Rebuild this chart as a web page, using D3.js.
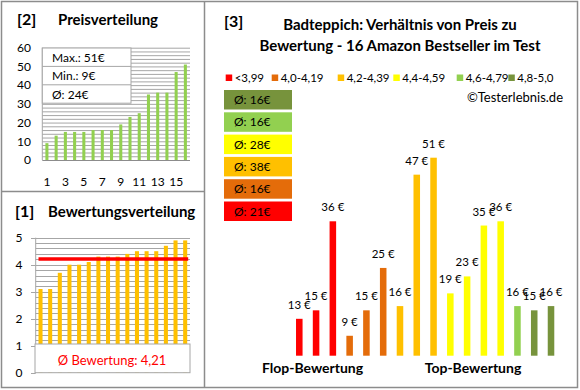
<!DOCTYPE html>
<html><head><meta charset="utf-8">
<script src="https://cdn.jsdelivr.net/npm/d3@7/dist/d3.min.js"></script>
<style>
html,body{margin:0;padding:0;background:#fff;}
svg{display:block;font-family:Lato, "Open Sans", sans-serif;}
</style></head>
<body>
<svg id="chart" width="580" height="390"></svg>
<script>
// ---- data ----
const priceSorted = [9, 13, 15, 15, 15, 16, 16, 16, 19, 23, 25, 35, 36, 36, 47, 51];
const priceTicks = [0, 10, 20, 30, 40, 50, 60];
const priceXLabels = ["1", "3", "5", "7", "9", "11", "13", "15"];
const priceStats = ["Max.: 51€", "Min.: 9€", "Ø: 24€"];

const ratingSorted = [3.1, 3.1, 3.7, 4.0, 4.0, 4.1, 4.3, 4.3, 4.3, 4.4, 4.5, 4.5, 4.5, 4.7, 4.9, 4.9];
const ratingTicks = [0, 1, 2, 3, 4, 5];
const ratingAvg = 4.21;
const ratingAvgLabel = "Ø Bewertung: 4,21";

const products = ["P1","P2","P3","P4","P5","P6","P7","P8","P9","P10","P11","P12","P13","P14","P15","P16"];
const productPrices = [13, 15, 36, 9, 15, 25, 16, 47, 51, 19, 23, 35, 36, 16, 15, 16];
const productClass = [0, 0, 0, 1, 1, 1, 2, 2, 2, 3, 3, 3, 3, 4, 5, 5];
const classLabels = ["<3,99", "4,0-4,19", "4,2-4,39", "4,4-4,59", "4,6-4,79", "4,8-5,0"];
const classColors = ["#FF0000", "#E46C0A", "#FFC000", "#FFFF00", "#92D050", "#77933C"];
const classAvgLabels = ["Ø: 21€", "Ø: 16€", "Ø: 38€", "Ø: 28€", "Ø: 16€", "Ø: 16€"];

const svg = d3.select("#chart");
const frame = "#8c8c8c";
const grid = "#a6a6a6";

// ---- frames ----
svg.append("rect").attr("x",1.5).attr("y",1.5).attr("width",576).attr("height",386)
  .attr("fill","none").attr("stroke",frame).attr("stroke-width",1.5);
svg.append("line").attr("x1",204.5).attr("x2",204.5).attr("y1",1).attr("y2",388)
  .attr("stroke",frame).attr("stroke-width",1.5);
svg.append("line").attr("x1",1).attr("x2",204.5).attr("y1",191.5).attr("y2",191.5)
  .attr("stroke",frame).attr("stroke-width",1.5);

// ---- panel [2] Preisverteilung ----
{
  const g = svg.append("g");
  g.append("text").attr("x",17).attr("y",25).attr("font-size",16).attr("font-weight","bold").text("[2]");
  g.append("text").attr("x",58).attr("y",25).attr("font-size",15).attr("font-weight","bold").text("Preisverteilung");
  const y = d3.scaleLinear().domain([0,60]).range([160,47.7]);
  const x = d3.scaleBand().domain(d3.range(1,17)).range([42.3,190]).paddingInner(0.67).paddingOuter(0.335);
  g.append("g").selectAll("line").data(d3.range(2,61,2)).join("line")
    .attr("x1",42.3).attr("x2",190).attr("y1",d=>y(d)+0.5).attr("y2",d=>y(d)+0.5)
    .attr("stroke",grid).attr("stroke-width",1);
  g.append("line").attr("x1",42.3).attr("x2",42.3).attr("y1",y(60)).attr("y2",y(0)).attr("stroke",grid);
  g.append("line").attr("x1",42.3).attr("x2",190).attr("y1",y(0)+0.5).attr("y2",y(0)+0.5).attr("stroke","#8c8c8c");
  const ax = d3.axisLeft(y).tickValues(priceTicks).tickFormat(d3.format("d")).tickSize(0).tickPadding(0);
  const ag = g.append("g").attr("transform","translate(31,0)").call(ax);
  ag.select(".domain").remove();
  ag.selectAll("text").attr("font-size",12).attr("font-family","Lato").attr("fill","#000");
  g.append("g").selectAll("rect").data(priceSorted).join("rect")
    .attr("x",(d,i)=>x(i+1)).attr("width",x.bandwidth())
    .attr("y",d=>y(d)).attr("height",d=>y(0)-y(d)).attr("fill","#92D050");
  g.append("g").selectAll("text").data(priceXLabels).join("text")
    .attr("x",d=>x(+d)+x.bandwidth()/2).attr("y",186).attr("text-anchor","middle")
    .attr("font-size",12).text(d=>d);
  // stats box
  const bx = 42.3, bw = 88.7, rowH = 18.4, by = 48;
  g.append("rect").attr("x",bx).attr("y",by).attr("width",bw).attr("height",rowH*3)
    .attr("fill","#fff").attr("stroke",grid);
  g.append("g").selectAll("line").data([1,2]).join("line")
    .attr("x1",bx).attr("x2",bx+bw).attr("y1",d=>by+d*rowH).attr("y2",d=>by+d*rowH).attr("stroke",grid);
  g.append("g").selectAll("text").data(priceStats).join("text")
    .attr("x",52).attr("y",(d,i)=>by+i*rowH+14).attr("font-size",12).text(d=>d);
}

// ---- panel [1] Bewertungsverteilung ----
{
  const g = svg.append("g");
  g.append("text").attr("x",15).attr("y",217).attr("font-size",16).attr("font-weight","bold").text("[1]");
  g.append("text").attr("x",48).attr("y",217).attr("font-size",15).attr("font-weight","bold").text("Bewertungsverteilung");
  const y = d3.scaleLinear().domain([0,5]).range([372.7,237.7]);
  const x = d3.scaleBand().domain(d3.range(16)).range([35.7,190]).paddingInner(0.58).paddingOuter(0.29);
  g.append("g").selectAll("line").data(d3.range(0.2,5.01,0.2)).join("line")
    .attr("x1",35.7).attr("x2",190).attr("y1",d=>Math.round(y(d))+0.5).attr("y2",d=>Math.round(y(d))+0.5)
    .attr("stroke",grid);
  g.append("line").attr("x1",35.7).attr("x2",35.7).attr("y1",y(5)).attr("y2",y(0)).attr("stroke",grid);
  const ax = d3.axisLeft(y).tickValues(ratingTicks).tickFormat(d3.format("d")).tickSize(0).tickPadding(0);
  const ag = g.append("g").attr("transform","translate(22.5,0)").call(ax);
  ag.select(".domain").remove();
  ag.selectAll("text").attr("font-size",12).attr("font-family","Lato").attr("fill","#000");
  g.append("g").selectAll("line").data(ratingTicks).join("line")
    .attr("x1",31).attr("x2",35.7).attr("y1",d=>Math.round(y(d))+0.5).attr("y2",d=>Math.round(y(d))+0.5)
    .attr("stroke",grid);
  g.append("g").selectAll("rect").data(ratingSorted).join("rect")
    .attr("x",(d,i)=>x(i)).attr("width",x.bandwidth())
    .attr("y",d=>y(d)).attr("height",d=>y(0)-y(d)).attr("fill","#FFC000");
  g.append("line").attr("x1",x(0)).attr("x2",x(15)+x.bandwidth()+1)
    .attr("y1",y(ratingAvg)).attr("y2",y(ratingAvg)).attr("stroke","#FF0000").attr("stroke-width",3.5);
  g.append("rect").attr("x",35).attr("y",344).attr("width",155).attr("height",28.7)
    .attr("fill","#fff").attr("stroke",grid);
  g.append("text").attr("x",112).attr("y",364.5).attr("text-anchor","middle").attr("font-size",13)
    .attr("fill","#FF0000").text(ratingAvgLabel);
}

// ---- panel [3] ----
{
  const g = svg.append("g");
  g.append("text").attr("x",224).attr("y",27).attr("font-size",16).attr("font-weight","bold").text("[3]");
  g.append("text").attr("x",400).attr("y",30).attr("text-anchor","middle").attr("font-size",15).attr("font-weight","bold")
    .text("Badteppich: Verhältnis von Preis zu");
  g.append("text").attr("x",400).attr("y",51).attr("text-anchor","middle").attr("font-size",15).attr("font-weight","bold")
    .text("Bewertung - 16 Amazon Bestseller im Test");
  // legend
  const legX = [225.7, 271.7, 337.7, 393.3, 456.7, 508.3];
  const lg = g.append("g").selectAll("g").data(classLabels).join("g")
    .attr("transform",(d,i)=>`translate(${legX[i]},0)`);
  lg.append("rect").attr("x",0).attr("y",74.5).attr("width",6.5).attr("height",6.5).attr("fill",(d,i)=>classColors[i]);
  lg.append("text").attr("x",9).attr("y",82).attr("font-size",11.5).text(d=>d);
  g.append("text").attr("x",563).attr("y",102).attr("text-anchor","end").attr("font-size",13).text("©Testerlebnis.de");
  // average boxes (top: best class)
  const order = [5,4,3,2,1,0];
  const bg = g.append("g").selectAll("g").data(order).join("g")
    .attr("transform",(d,i)=>`translate(224,${90 + i*22.3})`);
  bg.append("rect").attr("width",68).attr("height",19.5).attr("fill",d=>classColors[d]);
  bg.append("text").attr("x",10).attr("y",14).attr("font-size",12).attr("fill","#000").text(d=>classAvgLabels[d]);
  // bars
  const y = d3.scaleLinear().domain([4.3,51]).range([355.7,157.7]);
  const x = d3.scaleBand().domain(products).range([290.9,559.4]).paddingInner(0.61).paddingOuter(0.305);
  g.append("g").selectAll("rect").data(productPrices).join("rect")
    .attr("x",(d,i)=>x(products[i])).attr("width",x.bandwidth())
    .attr("y",d=>y(d)).attr("height",d=>y(4.3)-y(d)).attr("fill",(d,i)=>classColors[productClass[i]]);
  g.append("g").selectAll("text").data(productPrices).join("text")
    .attr("x",(d,i)=>x(products[i])+x.bandwidth()/2).attr("y",d=>y(d)-10)
    .attr("text-anchor","middle").attr("font-size",11.5).text(d=>d+" €");
  g.append("text").attr("x",312.5).attr("y",373).attr("text-anchor","middle").attr("font-size",14).attr("font-weight","bold").text("Flop-Bewertung");
  g.append("text").attr("x",473).attr("y",373).attr("text-anchor","middle").attr("font-size",14).attr("font-weight","bold").text("Top-Bewertung");
}
</script>
</body></html>
